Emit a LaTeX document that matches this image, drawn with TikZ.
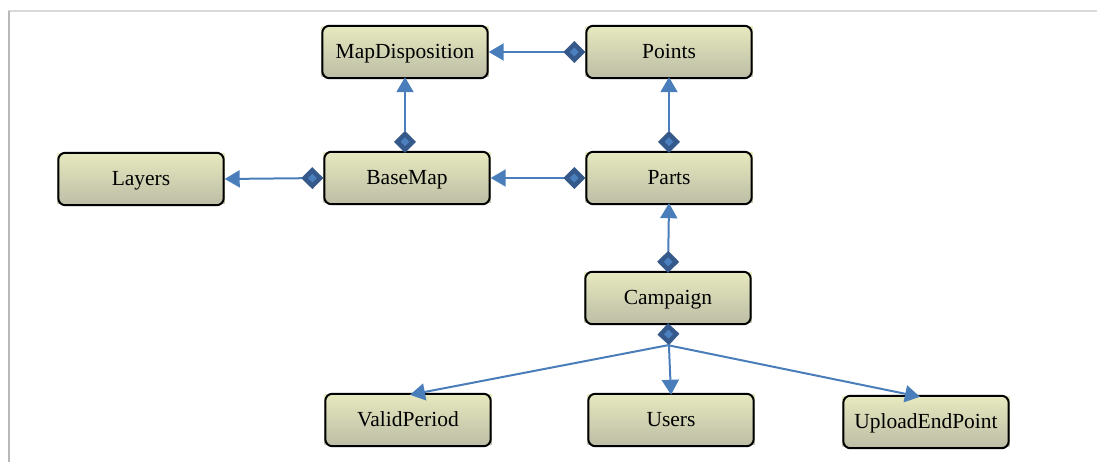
\documentclass[tikz,border=0pt]{standalone}
\usepackage{fontspec}
\setmainfont{Liberation Serif}
\usetikzlibrary{arrows.meta}
\definecolor{linkblue}{HTML}{4A7EBB}
\definecolor{diaout}{HTML}{35598A}
\definecolor{diain}{HTML}{4C7FBD}
\definecolor{boxtop}{HTML}{E6E8BE}
\definecolor{boxbot}{HTML}{BDBEA6}
\tikzset{
  cls/.style={rectangle, minimum width=167bp, minimum height=50bp, inner sep=0pt,
    text height=15bp, text depth=1bp,
    top color=boxtop, bottom color=boxbot, draw=none,
    font=\fontsize{21.5bp}{25bp}\selectfont},
  clsborder/.style={draw=black, line width=2bp, rounded corners=7bp},
  link/.style={draw=linkblue, line width=2bp,
    -{Triangle[length=15bp,width=17bp,color=linkblue]}},
  comp/.style={link,
    {Diamond[length=22bp,width=22bp,line width=4.5bp,color=diaout,fill=diain]}-{Triangle[length=15bp,width=17bp,color=linkblue]}},
}
\begin{document}
\begin{tikzpicture}[x=1bp,y=-1bp]
\useasboundingbox (0,0) rectangle (1097,462);
% frame
\draw[color=black!15, line width=2bp] (8,11.5) -- (1097,11.5);
\draw[color=black!28, line width=2bp] (8.5,11) -- (8.5,462);
% nodes
\node[cls] (mapdisp) at (405,52) {MapDisposition};
\node[cls] (points) at (669,52) {Points};
\node[cls] (layers) at (141,179) {Layers};
\node[cls] (basemap) at (407,178) {BaseMap};
\node[cls] (parts) at (669,178) {Parts};
\node[cls] (campaign) at (668,298) {Campaign};
\node[cls] (validperiod) at (408,420) {ValidPeriod};
\node[cls] (users) at (671,420) {Users};
\node[cls] (upload) at (926,422) {UploadEndPoint};
\foreach \n in {mapdisp,points,layers,basemap,parts,campaign,validperiod,users,upload}{
  \draw[clsborder] ([shift={(1bp,-1bp)}]\n.south west) rectangle ([shift={(-1bp,1bp)}]\n.north east);
}
% connectors
\draw[comp] (points.west) -- (mapdisp.east);
\draw[comp] (basemap.north -| mapdisp.north) -- (mapdisp.south);
\draw[comp] (parts.north) -- (points.south);
\draw[comp] (parts.west) -- (basemap.east);
\draw[comp] (basemap.west) -- (layers.east);
\draw[comp] (campaign.north) -- (parts.south);
\coordinate (fork) at ([yshift=-22bp]campaign.south);
\draw[comp] (campaign.south) -- (users.north);
\draw[link] (fork) -- ([xshift=2bp]validperiod.north);
\draw[link] (fork) -- ([xshift=-6bp]upload.north);
\end{tikzpicture}
\end{document}
